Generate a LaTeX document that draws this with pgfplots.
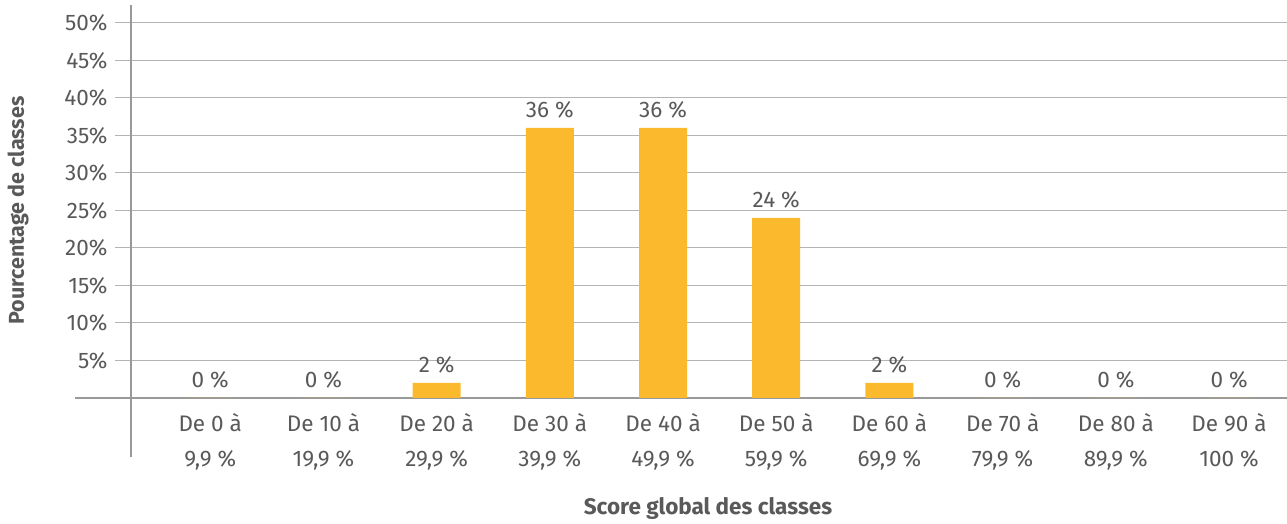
\documentclass[border=0pt]{standalone}
\usepackage{fontspec}
\setmainfont{Fira Sans}
\usepackage{pgfplots}
\pgfplotsset{compat=1.18}
\definecolor{barc}{HTML}{FBBA2E}
\definecolor{txt}{HTML}{595959}
\definecolor{gridc}{HTML}{B4B4B4}
\definecolor{axl}{HTML}{999999}
\begin{document}
\begin{tikzpicture}
\begin{axis}[
  anchor=origin, at={(0pt,0pt)},
  x=113.2pt, y=7.5pt,
  xmin=-0.14, xmax=10.21, ymin=-7.87, ymax=52.4,
  axis x line*=middle, axis y line*=middle,
  x axis line style={draw=axl, line width=2pt},
  y axis line style={draw=axl, line width=1.5pt},
  clip=false,
  /pgf/number format/assume math mode=true,
  ytick={5,10,...,50},
  yticklabel={\pgfmathprintnumber{\tick}\%},
  ymajorgrids, grid style={draw=gridc, line width=1pt},
  major tick length=0pt,
  yticklabel style={anchor=east, xshift=-20pt, font=\fontsize{22.5}{26}\selectfont, text=txt},
  xtick={0.7,1.7,2.7,3.7,4.7,5.7,6.7,7.7,8.7,9.7},
  xticklabels={{De 0 à\\9,9 \%},{De 10 à\\19,9 \%},{De 20 à\\29,9 \%},{De 30 à\\39,9 \%},{De 40 à\\49,9 \%},{De 50 à\\59,9 \%},{De 60 à\\69,9 \%},{De 70 à\\79,9 \%},{De 80 à\\89,9 \%},{De 90 à\\100 \%}},
  xticklabel style={align=center, font=\fontsize{22.5}{35}\selectfont, text=txt, anchor=north, yshift=-12pt},
]
\addplot[ybar, fill=barc, draw=none, bar width=48pt,
  nodes near coords={\pgfmathprintnumber{\pgfplotspointmeta}~\%},
  every node near coord/.style={font=\fontsize{22.5}{26}\selectfont, text=txt, anchor=south, yshift=6pt}]
  coordinates {(0.7,0) (1.7,0) (2.7,2) (3.7,36) (4.7,36) (5.7,24) (6.7,2) (7.7,0) (8.7,0) (9.7,0)};
\draw[axl, line width=2pt] (axis cs:-0.495,0) -- (axis cs:-0.14,0);
\node[rotate=90, font=\bfseries\fontsize{21.5}{26}\selectfont, text=txt] at (axis cs:-0.998,25) {Pourcentage de classes};
\node[font=\bfseries\fontsize{22.5}{26}\selectfont, text=txt] at (axis cs:5.097,-14.67) {Score global des classes};
\end{axis}
\pgfresetboundingbox
\path[use as bounding box] (-131pt,-126pt) rectangle (1156pt,398pt);
\end{tikzpicture}
\end{document}
